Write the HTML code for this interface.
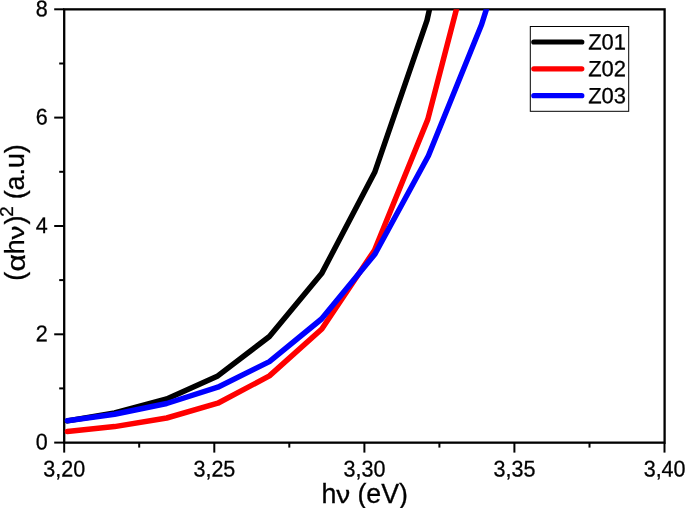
<!DOCTYPE html>
<html><head><meta charset="utf-8"><title>Tauc plot</title>
<style>
html,body{margin:0;padding:0;background:#fff;}
body{width:685px;height:508px;overflow:hidden;}
svg{display:block;}
text{font-family:"Liberation Sans",sans-serif;fill:#000;}
text{stroke:#000;stroke-width:0.3px;}
.tk{font-size:22.7px;}
.ti text{font-size:26.8px;}
.lg{font-size:22.1px;}
</style></head><body>
<svg width="685" height="508" viewBox="0 0 685 508">
<rect width="685" height="508" fill="#fff"/>
<defs><clipPath id="c"><rect x="64.2" y="9.3" width="600.3" height="433.3"/></clipPath></defs>
<g stroke="#000" stroke-width="2" fill="none">
<rect x="64.2" y="9.35" width="600.4" height="433.3" stroke-width="2.3"/>

<line x1="64.2" y1="442.6" x2="64.2" y2="452.6"/>
<line x1="139.2" y1="442.6" x2="139.2" y2="447.6"/>
<line x1="214.3" y1="442.6" x2="214.3" y2="452.6"/>
<line x1="289.3" y1="442.6" x2="289.3" y2="447.6"/>
<line x1="364.4" y1="442.6" x2="364.4" y2="452.6"/>
<line x1="439.4" y1="442.6" x2="439.4" y2="447.6"/>
<line x1="514.4" y1="442.6" x2="514.4" y2="452.6"/>
<line x1="589.5" y1="442.6" x2="589.5" y2="447.6"/>
<line x1="664.5" y1="442.6" x2="664.5" y2="452.6"/>
<line x1="64.2" y1="442.6" x2="54.2" y2="442.6"/>
<line x1="64.2" y1="388.4" x2="59.2" y2="388.4"/>
<line x1="64.2" y1="334.3" x2="54.2" y2="334.3"/>
<line x1="64.2" y1="280.1" x2="59.2" y2="280.1"/>
<line x1="64.2" y1="226.0" x2="54.2" y2="226.0"/>
<line x1="64.2" y1="171.8" x2="59.2" y2="171.8"/>
<line x1="64.2" y1="117.6" x2="54.2" y2="117.6"/>
<line x1="64.2" y1="63.5" x2="59.2" y2="63.5"/>
<line x1="64.2" y1="9.3" x2="54.2" y2="9.3"/>
</g>
<g clip-path="url(#c)" fill="none" stroke-width="5.5" stroke-linecap="round" stroke-linejoin="round">
<polyline stroke="#000" points="67.3,420.9 114.6,413.0 166.7,399.0 217.8,375.9 269.4,336.5 321.6,273.6 374.7,172.3 427.0,20.4 431.5,0.2"/>
<polyline stroke="#f00" points="67.3,431.6 114.6,426.6 166.7,418.0 217.8,403.2 269.4,375.9 321.8,329.0 374.5,250.2 427.8,119.4 458.7,0.6"/>
<polyline stroke="#00f" points="67.3,420.7 114.6,414.2 166.7,403.5 217.8,387.2 269.4,361.6 321.5,319.0 375.0,254.0 428.4,155.8 481.6,24.5 489.3,0.1"/>
</g>
<text class="tk" transform="translate(64.3,476.4) rotate(0.03) scale(0.948,1)" text-anchor="middle">3,20</text>
<text class="tk" transform="translate(214.4,476.4) rotate(0.03) scale(0.948,1)" text-anchor="middle">3,25</text>
<text class="tk" transform="translate(364.5,476.4) rotate(0.03) scale(0.948,1)" text-anchor="middle">3,30</text>
<text class="tk" transform="translate(514.5,476.4) rotate(0.03) scale(0.948,1)" text-anchor="middle">3,35</text>
<text class="tk" transform="translate(664.6,476.4) rotate(0.03) scale(0.948,1)" text-anchor="middle">3,40</text>
<text class="tk" transform="translate(47.7,449.6) rotate(0.03) scale(0.948,1)" text-anchor="end">0</text>
<text class="tk" transform="translate(47.7,341.3) rotate(0.03) scale(0.948,1)" text-anchor="end">2</text>
<text class="tk" transform="translate(47.7,233.0) rotate(0.03) scale(0.948,1)" text-anchor="end">4</text>
<text class="tk" transform="translate(47.7,124.6) rotate(0.03) scale(0.948,1)" text-anchor="end">6</text>
<text class="tk" transform="translate(47.7,16.3) rotate(0.03) scale(0.948,1)" text-anchor="end">8</text>
<g class="ti"><text x="321.6" y="502.6">h</text><text transform="translate(336.3,502.6) scale(1.04,0.86)">ν</text><text x="357.4" y="502.6">(eV)</text></g>
<g class="ti" transform="translate(24,281.2) rotate(-90)"><text x="0.5" y="0">(</text><text transform="translate(9.8,0.7) scale(1.13,0.93)">α</text><text x="27" y="0">h</text><text transform="translate(41.6,0) scale(1.03,0.85)">ν</text><text x="56.6" y="0">)</text><text x="64.4" y="-10.7" style="font-size:18.8px">2</text><text x="81.9" y="0">(a.u)</text></g>
<rect x="530.3" y="26.5" width="98.4" height="84.8" fill="#fff" stroke="#000" stroke-width="1"/>
<line x1="533.8" y1="42.0" x2="581.8" y2="42.0" stroke="#000" stroke-width="5.2" stroke-linecap="round"/>
<text class="lg" transform="translate(588.2,49.5) rotate(0.03) scale(0.995,1)">Z01</text>
<line x1="533.8" y1="68.8" x2="581.8" y2="68.8" stroke="#f00" stroke-width="5.2" stroke-linecap="round"/>
<text class="lg" transform="translate(588.2,76.3) rotate(0.03) scale(0.995,1)">Z02</text>
<line x1="533.8" y1="95.7" x2="581.8" y2="95.7" stroke="#00f" stroke-width="5.2" stroke-linecap="round"/>
<text class="lg" transform="translate(588.2,103.2) rotate(0.03) scale(0.995,1)">Z03</text>
</svg></body></html>
